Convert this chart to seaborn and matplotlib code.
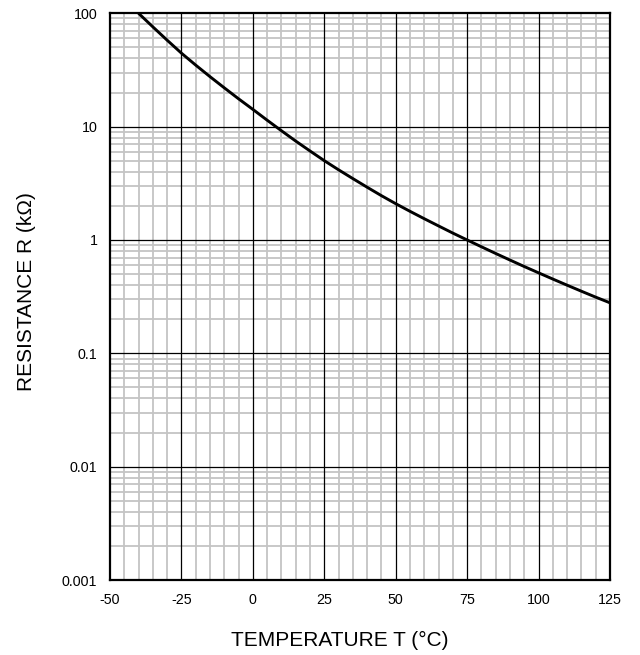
import numpy as np
import pandas as pd
import seaborn as sns
import matplotlib
matplotlib.use("Agg")
import matplotlib.pyplot as plt
from matplotlib.ticker import LogLocator, FuncFormatter, MultipleLocator, NullFormatter

# temperature (degC) and resistance (kOhm)
temperature = [-40, -35, -30, -25, -20, -15, -10, -5, 0, 5, 10, 15, 20, 25, 30, 35,
               40, 45, 50, 55, 60, 65, 70, 75, 80, 85, 90, 95, 100, 105, 110, 115,
               120, 125]
resistance = [100, 75.9, 57.9, 44.5, 34.9, 27.6, 22.0, 17.6, 14.2, 11.4, 9.2, 7.46,
              6.10, 5.01, 4.16, 3.48, 2.92, 2.46, 2.09, 1.79, 1.54, 1.33, 1.15, 1.00,
              0.871, 0.760, 0.665, 0.583, 0.513, 0.452, 0.399, 0.353, 0.313, 0.279]

x_ticks = [-50, -25, 0, 25, 50, 75, 100, 125]
y_ticks = [0.001, 0.01, 0.1, 1, 10, 100]

sns.set_style("white")
plt.rcParams["font.family"] = ["Liberation Sans", "DejaVu Sans"]
plt.rcParams["axes.unicode_minus"] = False

df = pd.DataFrame({"T": temperature, "R": resistance})

fig = plt.figure(figsize=(6.4, 6.55), dpi=100)
ax = fig.add_axes([110 / 640, 1 - 580 / 655, 500 / 640, (580 - 13.3) / 655])

sns.lineplot(data=df, x="T", y="R", ax=ax, color="black", linewidth=2.1, zorder=5)

ax.set_yscale("log")
ax.set_xlim(-50, 125)
ax.set_ylim(0.001, 100)

ax.set_xticks(x_ticks)
ax.xaxis.set_minor_locator(MultipleLocator(5))
ax.set_yticks(y_ticks)
ax.yaxis.set_minor_locator(LogLocator(base=10, subs=np.arange(2, 10), numticks=20))
ax.yaxis.set_major_formatter(FuncFormatter(lambda v, p: f"{v:g}"))
ax.yaxis.set_minor_formatter(NullFormatter())

# light minor grid, black major grid drawn on top of it
ax.grid(which="minor", color="#c4c4c4", linewidth=1.3)
ax.grid(which="major", visible=False)
ax.set_axisbelow(True)
for xv in x_ticks[1:-1]:
    ax.axvline(xv, color="black", linewidth=0.9, zorder=2)
for yv in y_ticks[1:-1]:
    ax.axhline(yv, color="black", linewidth=0.9, zorder=2)

ax.tick_params(which="both", length=0, labelsize=10.3, colors="black")
ax.tick_params(axis="x", pad=9)
ax.tick_params(axis="y", pad=9)

for s in ax.spines.values():
    s.set_color("black")
    s.set_linewidth(1.6)
    s.set_zorder(6)

ax.set_xlabel("")
ax.set_ylabel("")
fig.text(340 / 640, 1 - 640 / 655, "TEMPERATURE T (°C)", ha="center", va="center",
         fontsize=15, color="black")
fig.text(27 / 640, 1 - 292 / 655, "RESISTANCE R (kΩ)", ha="center", va="center",
         rotation=90, fontsize=15, color="black")

fig.savefig("out.png", dpi=100)
